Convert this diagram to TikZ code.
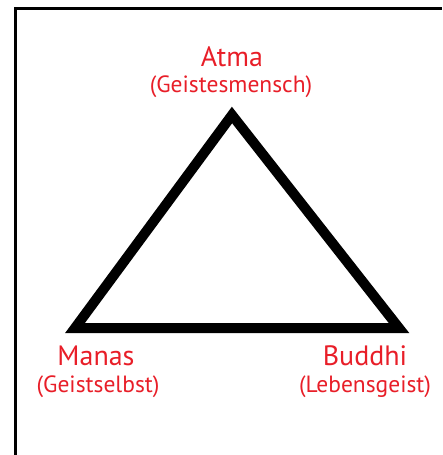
\documentclass[tikz,border=0pt]{standalone}
\usepackage{fontspec}
\setmainfont{PT Sans}
\usepackage{xcolor}
\definecolor{labelred}{RGB}{232,30,40}

\begin{document}
\begin{tikzpicture}[x=1pt,y=-1pt]
\useasboundingbox (0,0) rectangle (442,455);
\tikzset{labelname/.style={text=labelred, inner sep=0pt, font=\fontsize{28}{30}\selectfont},
  labelsub/.style={text=labelred, inner sep=0pt, font=\fontsize{23.5}{25}\selectfont}}
% frame
\draw[line width=3] (15.5,455) -- (15.5,8.5) -- (442,8.5);
% corners of the triangle
\coordinate (atma) at (232,115);
\coordinate (manas) at (75,328);
\coordinate (buddhi) at (399,328);
\draw[line width=10, line join=miter] (atma) -- (manas) -- (buddhi) -- cycle;
% labels
\node[labelname] (atmaname) at (232,57) {Atma};
\node[labelsub] (atmasub) at (231,87) {(Geistesmensch)};
\node[labelname] (manasname) at (96,356) {Manas};
\node[labelsub] (manassub) at (98,387) {(Geistselbst)};
\node[labelname] (buddhiname) at (365,356) {Buddhi};
\node[labelsub] (buddhisub) at (365,387) {(Lebensgeist)};
\end{tikzpicture}
\end{document}
